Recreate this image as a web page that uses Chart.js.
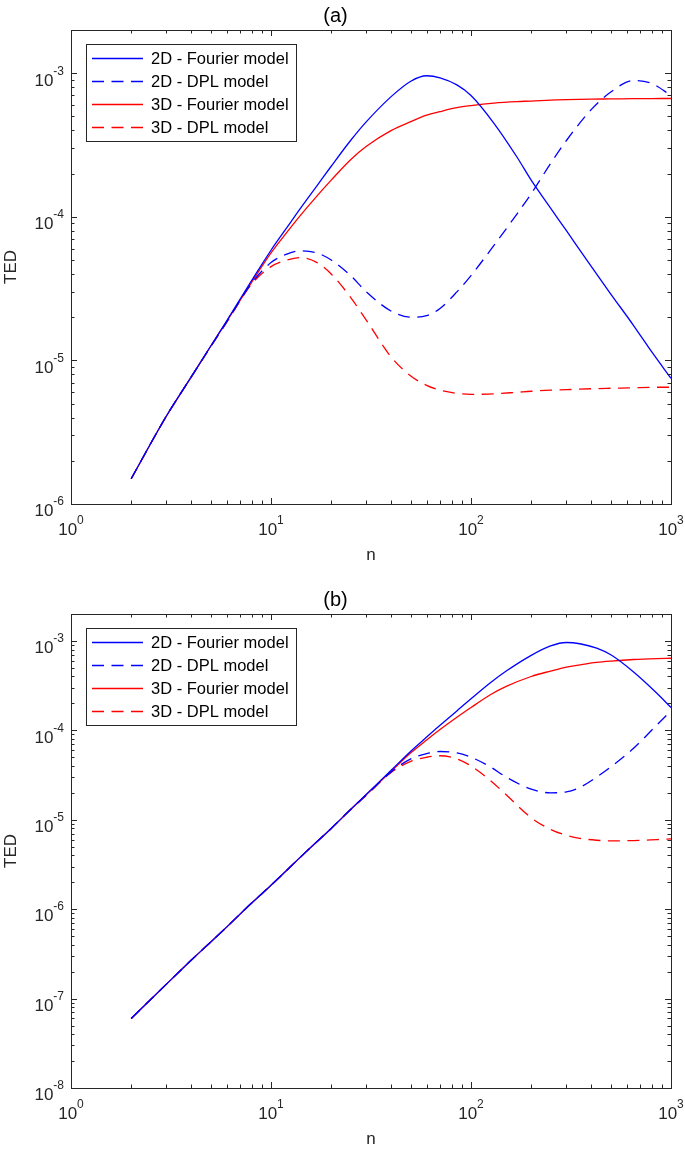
<!DOCTYPE html>
<html>
<head>
<meta charset="utf-8">
<script src="https://cdn.jsdelivr.net/npm/chart.js@4.4.1/dist/chart.umd.min.js"></script>
<style>
  html, body { margin: 0; padding: 0; background: #fff; }
  .panel { position: absolute; left: 0; width: 685px; height: 568px; }
  #panelA { top: 0; }
  #panelB { top: 584px; }
</style>
</head>
<body>
<div class="panel" id="panelA"><canvas id="chartA" width="685" height="568"></canvas></div>
<div class="panel" id="panelB"><canvas id="chartB" width="685" height="568"></canvas></div>
<script>
// legend names, same order in both panels
const seriesNames = ["2D - Fourier model", "2D - DPL model", "3D - Fourier model", "3D - DPL model"];

// panel (a)
const nA = [2, 3, 4, 5, 6, 8, 10, 12, 14, 17, 20, 25, 30, 40, 50, 60, 70, 85, 100, 130, 170, 200, 250, 300, 400, 500, 650, 800, 1000];
const fourier2dA = [1.5e-6, 4.1e-6, 7.7e-6, 1.26e-5, 1.88e-5, 3.6e-5, 5.85e-5, 8.4e-5, 1.14e-4, 1.65e-4, 2.25e-4, 3.4e-4, 4.6e-4, 6.9e-4, 8.8e-4, 9.6e-4, 9.3e-4, 8.3e-4, 7.0e-4, 4.5e-4, 2.6e-4, 1.8e-4, 1.15e-4, 8.0e-5, 4.5e-5, 2.9e-5, 1.75e-5, 1.15e-5, 7.5e-6];
const dpl2dA = [1.5e-6, 4.1e-6, 7.7e-6, 1.25e-5, 1.85e-5, 3.45e-5, 4.8e-5, 5.5e-5, 5.8e-5, 5.6e-5, 5.0e-5, 3.9e-5, 3.0e-5, 2.2e-5, 2.0e-5, 2.05e-5, 2.3e-5, 3.0e-5, 3.9e-5, 6.3e-5, 1.05e-4, 1.45e-4, 2.35e-4, 3.4e-4, 5.6e-4, 7.4e-4, 8.9e-4, 8.5e-4, 7.0e-4];
const fourier3dA = [1.5e-6, 4.1e-6, 7.7e-6, 1.26e-5, 1.87e-5, 3.5e-5, 5.6e-5, 7.8e-5, 1.02e-4, 1.4e-4, 1.8e-4, 2.5e-4, 3.1e-4, 4.0e-4, 4.6e-4, 5.1e-4, 5.4e-4, 5.75e-4, 5.95e-4, 6.2e-4, 6.35e-4, 6.4e-4, 6.5e-4, 6.55e-4, 6.6e-4, 6.62e-4, 6.65e-4, 6.66e-4, 6.67e-4];
const dpl3dA = [1.5e-6, 4.1e-6, 7.7e-6, 1.25e-5, 1.84e-5, 3.4e-5, 4.5e-5, 5.0e-5, 5.2e-5, 4.8e-5, 4.0e-5, 2.75e-5, 1.9e-5, 1.05e-5, 7.8e-6, 6.7e-6, 6.2e-6, 5.9e-6, 5.8e-6, 5.85e-6, 6.0e-6, 6.1e-6, 6.2e-6, 6.25e-6, 6.35e-6, 6.4e-6, 6.45e-6, 6.5e-6, 6.5e-6];

// panel (b)
const nB = [2, 3, 4, 5, 6, 8, 10, 15, 20, 25, 30, 40, 50, 60, 70, 85, 100, 125, 150, 200, 250, 300, 350, 425, 500, 650, 850, 1000];
const fourier2dB = [6.0e-8, 1.45e-7, 2.7e-7, 4.3e-7, 6.3e-7, 1.17e-6, 1.85e-6, 4.4e-6, 8.0e-6, 1.3e-5, 1.93e-5, 3.6e-5, 5.85e-5, 8.4e-5, 1.14e-4, 1.65e-4, 2.25e-4, 3.4e-4, 4.6e-4, 6.9e-4, 8.8e-4, 9.6e-4, 9.3e-4, 8.3e-4, 7.0e-4, 4.5e-4, 2.6e-4, 1.8e-4];
const dpl2dB = [6.0e-8, 1.45e-7, 2.7e-7, 4.3e-7, 6.3e-7, 1.17e-6, 1.85e-6, 4.4e-6, 8.0e-6, 1.3e-5, 1.9e-5, 3.45e-5, 4.8e-5, 5.5e-5, 5.8e-5, 5.6e-5, 5.0e-5, 3.9e-5, 3.0e-5, 2.2e-5, 2.0e-5, 2.05e-5, 2.3e-5, 3.0e-5, 3.9e-5, 6.3e-5, 1.15e-4, 1.65e-4];
const fourier3dB = [6.0e-8, 1.45e-7, 2.7e-7, 4.3e-7, 6.3e-7, 1.17e-6, 1.85e-6, 4.4e-6, 8.0e-6, 1.3e-5, 1.92e-5, 3.5e-5, 5.6e-5, 7.8e-5, 1.02e-4, 1.4e-4, 1.8e-4, 2.5e-4, 3.1e-4, 4.0e-4, 4.6e-4, 5.1e-4, 5.4e-4, 5.75e-4, 5.95e-4, 6.2e-4, 6.35e-4, 6.4e-4];
const dpl3dB = [6.0e-8, 1.45e-7, 2.7e-7, 4.3e-7, 6.3e-7, 1.17e-6, 1.85e-6, 4.4e-6, 8.0e-6, 1.3e-5, 1.88e-5, 3.4e-5, 4.5e-5, 5.0e-5, 5.2e-5, 4.8e-5, 4.0e-5, 2.75e-5, 1.9e-5, 1.05e-5, 7.8e-6, 6.7e-6, 6.2e-6, 5.9e-6, 5.8e-6, 5.85e-6, 6.0e-6, 6.1e-6];

// tick labels (base^exponent)
const xDecades = [1, 10, 100, 1000];
const xDecadeLabels = ["10^0", "10^1", "10^2", "10^3"];
const yDecadesA = [1e-6, 1e-5, 1e-4, 1e-3];
const yDecadeLabelsA = ["10^-6", "10^-5", "10^-4", "10^-3"];
const yDecadesB = [1e-8, 1e-7, 1e-6, 1e-5, 1e-4, 1e-3];
const yDecadeLabelsB = ["10^-8", "10^-7", "10^-6", "10^-5", "10^-4", "10^-3"];

const FONT = "'Liberation Sans', Arial, Helvetica, sans-serif";
const AXIS_COLOR = "#262626";
Chart.defaults.font.family = FONT;
Chart.defaults.color = AXIS_COLOR;

function isDecade(v) {
  const l = Math.log10(v);
  return Math.abs(l - Math.round(l)) < 1e-6;
}

// decades plus 2..9 minor steps, up to max
function logTicks(decades, max) {
  const out = [];
  decades.forEach(function (d) {
    for (let k = 1; k <= 9; k++) {
      const v = d * k;
      if (v <= max * 1.0001) out.push(v);
    }
  });
  return out;
}

function labelFor(decades, labels) {
  return function (value) {
    const i = decades.findIndex((d) => Math.abs(d - value) / d < 1e-6);
    return i >= 0 ? labels[i] : "";
  };
}

// "10^-3" -> base + raised exponent
function drawPower(ctx, text, x, baseline, align) {
  const parts = text.split("^");
  ctx.font = "17px " + FONT;
  const wb = ctx.measureText(parts[0]).width;
  ctx.font = "12px " + FONT;
  const we = ctx.measureText(parts[1]).width;
  let left = x;
  if (align === "center") left = x - (wb + we) / 2;
  if (align === "right") left = x - (wb + we);
  ctx.font = "17px " + FONT;
  ctx.fillText(parts[0], left, baseline);
  ctx.font = "12px " + FONT;
  ctx.fillText(parts[1], left + wb, baseline - 11);
}

// matlab-ish box: inward ticks on all 4 sides, power labels, boxed legend
const boxAxes = {
  id: "boxAxes",
  afterDatasetsDraw(chart) {
    const { ctx, chartArea: a, scales } = chart;
    const L = Math.round(a.left), R = Math.round(a.right);
    const T = Math.round(a.top), B = Math.round(a.bottom);
    ctx.save();
    ctx.strokeStyle = AXIS_COLOR;
    ctx.lineWidth = 1;
    ctx.beginPath();
    scales.x.ticks.forEach(function (t) {
      const px = Math.round(scales.x.getPixelForValue(t.value)) + 0.5;
      const len = isDecade(t.value) ? 6 : 3.5;
      ctx.moveTo(px, B);
      ctx.lineTo(px, B - len);
      ctx.moveTo(px, T);
      ctx.lineTo(px, T + len);
    });
    scales.y.ticks.forEach(function (t) {
      const py = Math.round(scales.y.getPixelForValue(t.value)) + 0.5;
      const len = isDecade(t.value) ? 6 : 3.5;
      ctx.moveTo(L, py);
      ctx.lineTo(L + len, py);
      ctx.moveTo(R, py);
      ctx.lineTo(R - len, py);
    });
    ctx.stroke();
    ctx.strokeRect(L + 0.5, T + 0.5, R - L, B - T);

    // tick labels from the scales' own ticks
    ctx.fillStyle = AXIS_COLOR;
    ctx.textBaseline = "alphabetic";
    ctx.textAlign = "left";
    scales.x.ticks.forEach(function (t) {
      if (!t.label) return;
      drawPower(ctx, t.label, scales.x.getPixelForValue(t.value), B + 31, "center");
    });
    scales.y.ticks.forEach(function (t) {
      if (!t.label) return;
      drawPower(ctx, t.label, L - 7, scales.y.getPixelForValue(t.value) + 12.3, "right");
    });

    // legend
    const x0 = L + 15, y0 = T + 14;
    const w = 210, h = 97;
    ctx.fillStyle = "#fff";
    ctx.fillRect(x0, y0, w, h);
    ctx.strokeStyle = AXIS_COLOR;
    ctx.strokeRect(x0 + 0.5, y0 + 0.5, w, h);
    ctx.font = "16.5px " + FONT;
    ctx.textBaseline = "middle";
    chart.data.datasets.forEach(function (ds, i) {
      const y = y0 + 14.5 + i * 23;
      ctx.strokeStyle = ds.borderColor;
      ctx.lineWidth = ds.borderWidth;
      ctx.setLineDash(ds.borderDash || []);
      ctx.beginPath();
      ctx.moveTo(x0 + 6, y);
      ctx.lineTo(x0 + 57, y);
      ctx.stroke();
      ctx.setLineDash([]);
      ctx.fillStyle = "#000";
      ctx.fillText(ds.label, x0 + 65, y + 1);
    });
    ctx.restore();
  },
};

function makeChart(canvasId, title, nVals, series, yMin, yMax, yDecades, yLabels) {
  const styles = [
    { color: "#0000ff", dash: [] },
    { color: "#0000ff", dash: [12, 7.5] },
    { color: "#ff0000", dash: [] },
    { color: "#ff0000", dash: [12, 7.5] },
  ];
  const datasets = series.map(function (vals, i) {
    return {
      label: seriesNames[i],
      data: nVals.map((n, j) => ({ x: n, y: vals[j] })),
      borderColor: styles[i].color,
      borderDash: styles[i].dash,
      borderWidth: 1.3,
      pointRadius: 0,
      fill: false,
      cubicInterpolationMode: "monotone",
    };
  });
  const xTickVals = logTicks(xDecades, 1000);
  const yTickVals = logTicks(yDecades, yMax * 0.999);

  const config = {
    type: "line",
    data: { datasets: datasets },
    options: {
      responsive: false,
      animation: false,
      events: [],
      layout: { padding: { left: 0, right: 14, top: 0, bottom: 0 } },
      plugins: {
        legend: { display: false },
        tooltip: { enabled: false },
        title: {
          display: true,
          text: title,
          color: "#000",
          font: { size: 20, weight: "normal" },
          padding: { top: 4, bottom: 2 },
        },
      },
      scales: {
        x: {
          type: "logarithmic",
          min: 1,
          max: 1000,
          afterBuildTicks: (scale) => { scale.ticks = xTickVals.map((v) => ({ value: v })); },
          afterFit: (scale) => { scale.height = 64; },
          grid: { display: false },
          border: { display: false },
          ticks: {
            display: false,
            autoSkip: false,
            callback: labelFor(xDecades, xDecadeLabels),
          },
          title: {
            display: true,
            text: "n",
            color: AXIS_COLOR,
            font: { size: 17 },
            padding: { top: 0, bottom: 2 },
          },
        },
        y: {
          type: "logarithmic",
          min: yMin,
          max: yMax,
          afterBuildTicks: (scale) => { scale.ticks = yTickVals.map((v) => ({ value: v })); },
          afterFit: (scale) => { scale.width = 71; },
          grid: { display: false },
          border: { display: false },
          ticks: {
            display: false,
            autoSkip: false,
            callback: labelFor(yDecades, yLabels),
          },
          title: {
            display: true,
            text: "TED",
            color: AXIS_COLOR,
            font: { size: 17 },
            padding: { top: 1, bottom: 0 },
          },
        },
      },
    },
    plugins: [boxAxes],
  };
  return new Chart(document.getElementById(canvasId), config);
}

makeChart("chartA", "(a)", nA, [fourier2dA, dpl2dA, fourier3dA, dpl3dA], 1e-6, 2e-3, yDecadesA, yDecadeLabelsA);
makeChart("chartB", "(b)", nB, [fourier2dB, dpl2dB, fourier3dB, dpl3dB], 1e-8, 2e-3, yDecadesB, yDecadeLabelsB);
</script>
</body>
</html>
